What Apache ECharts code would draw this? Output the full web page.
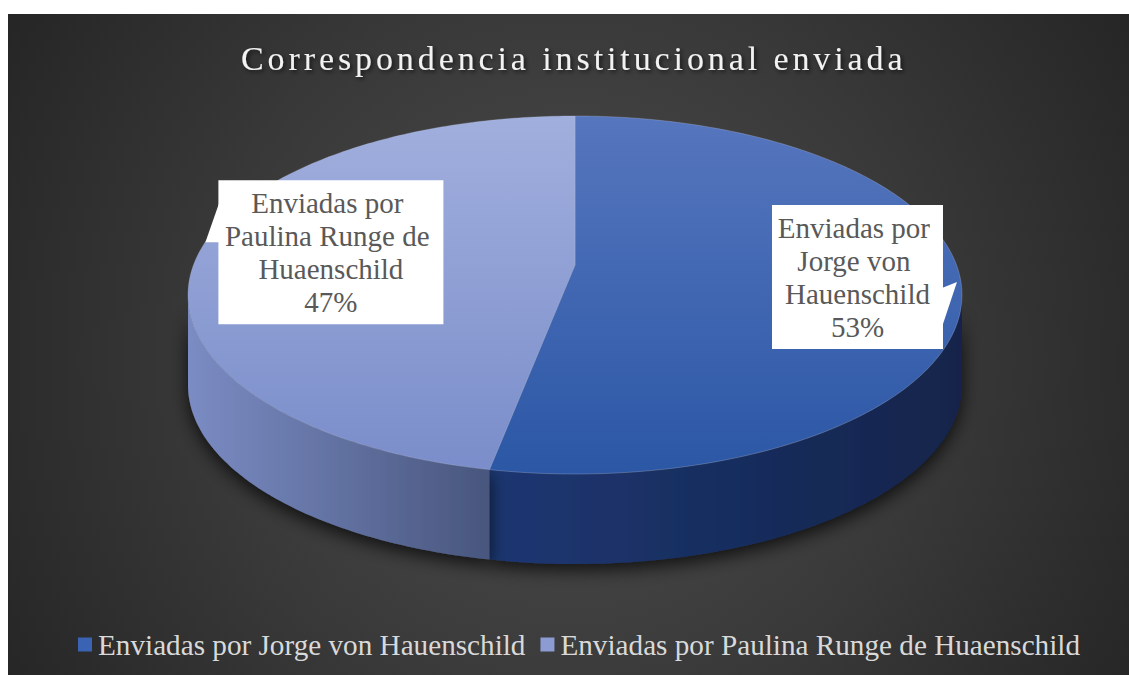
<!DOCTYPE html>
<html>
<head>
<meta charset="utf-8">
<script src="https://cdn.jsdelivr.net/npm/echarts@6/dist/echarts.min.js"></script>
<style>
  html, body { margin: 0; padding: 0; background: #ffffff; }
  #chart { position: absolute; left: 8px; top: 14px; width: 1121px; height: 661px; }
</style>
</head>
<body>
<div id="chart"></div>
<script>
// ---- data ----
const titleText = 'Correspondencia institucional enviada';
const categories = ['Enviadas por Jorge von Hauenschild', 'Enviadas por Paulina Runge de Huaenschild'];
const values = [53, 47];

// ---- layout / style ----
const W = 1121, H = 661;
// perspective pie: centre, radii, perspective factor, wall depth
const CX = 567, CY = 251, A = 381.5, B = 174, PK = 0.1676, DEPTH = 90;
const FONT = "'Liberation Serif', 'Times New Roman', serif";
const legendColors = ['#3a63b3', '#8c9cd3'];
const topColors = [['#5676be', '#2b57a5'], ['#a1afdd', '#7a8dca']];
const wallColors = [['#1d3772', '#13244b'], ['#7b8cc4', '#48567d']];
const labelBox = [{ w: 171, h: 144, dx: 2, dy: 0 }, { w: 225, h: 144, dx: 30, dy: -1 }];
const labelK = 0.73;

const total = values.reduce((a, b) => a + b, 0);

// project angle (deg, clockwise from the back) at relative radius s
function proj(deg, s, dy) {
  const r = deg * Math.PI / 180;
  const u = s * Math.sin(r), w = -s * Math.cos(r);
  const den = 1 - PK * w;
  return [CX + A * u / den, CY + B * w / den + (dy || 0)];
}
function arc(a, b, dy) {
  const pts = [];
  const n = Math.max(2, Math.ceil(Math.abs(b - a)));
  for (let k = 0; k <= n; k++) pts.push(proj(a + (b - a) * k / n, 1, dy));
  return pts;
}
// silhouette angles of the side wall
const wallFrom = Math.acos(-PK) * 180 / Math.PI;
const wallTo = 360 - wallFrom;

function makeSeries(i) {
  return {
    type: 'custom',
    name: categories[i],
    coordinateSystem: 'none',
    itemStyle: { color: legendColors[i] },
    animation: false,
    silent: true,
    data: [[values[i]]],
    renderItem: function (params, api) {
      const v = api.value(0);
      let before = 0;
      for (let j = 0; j < i; j++) before += values[j];
      const start = before / total * 360;
      const end = start + v / total * 360;
      const children = [];

      // side wall (visible front part only)
      const a = Math.max(start, wallFrom), b = Math.min(end, wallTo);
      if (b > a) {
        const top = arc(a, b, 0);
        const bottom = arc(b, a, DEPTH);
        const pts = top.concat(bottom);
        const xs = pts.map(p => p[0]);
        const x0 = Math.min.apply(null, xs), x1 = Math.max.apply(null, xs);
        children.push({
          type: 'polygon',
          z2: 1,
          shape: { points: pts },
          style: {
            fill: { type: 'linear', x: x0, y: 0, x2: x1, y2: 0, global: true,
              colorStops: [{ offset: 0, color: wallColors[i][0] }, { offset: 1, color: wallColors[i][1] }] },
            shadowBlur: 18, shadowColor: 'rgba(0,0,0,0.75)', shadowOffsetY: 6
          }
        });
      }

      // top face
      const facePts = [[CX, CY]].concat(arc(start, end, 0));
      const yBack = proj(0, 1)[1], yFront = proj(180, 1)[1];
      children.push({
        type: 'polygon',
        z2: 10,
        shape: { points: facePts },
        style: {
          fill: { type: 'linear', x: 0, y: yBack, x2: 0, y2: yFront, global: true,
            colorStops: [{ offset: 0, color: topColors[i][0] }, { offset: 1, color: topColors[i][1] }] },
          stroke: 'rgba(190,200,235,0.35)', lineWidth: 0.8
        }
      });

      // data label (callout box)
      const mid = (start + end) / 2;
      const lb = labelBox[i];
      const anchor = proj(mid, labelK);
      const lx = anchor[0] + lb.dx;
      const ly = anchor[1] + lb.dy;
      const bx = lx - lb.w / 2, by = ly - lb.h / 2;
      let wedge;
      if (i === 0) {
        wedge = [[bx + lb.w - 1, by + 83], [bx + lb.w + 14, by + 77], [bx + lb.w - 1, by + 122]];
      } else {
        wedge = [[bx + 1, by + 22], [bx - 13, by + 62], [bx + 1, by + 62]];
      }
      children.push({ type: 'polygon', z2: 20, shape: { points: wedge }, style: { fill: '#ffffff' } });
      children.push({
        type: 'rect', z2: 21,
        shape: { x: bx, y: by, width: lb.w, height: lb.h },
        style: { fill: '#ffffff' }
      });
      const pct = Math.round(v / total * 100) + '%';
      children.push({
        type: 'text', z2: 22,
        x: lx, y: ly,
        style: {
          text: categories[i] + '\n' + pct,
          fill: '#595959',
          fontSize: 29,
          fontFamily: FONT,
          align: 'center',
          verticalAlign: 'middle',
          lineHeight: 33,
          width: lb.w - 6,
          overflow: 'break'
        }
      });

      return { type: 'group', children: children };
    }
  };
}

const chart = echarts.init(document.getElementById('chart'), null, { renderer: 'svg', width: W, height: H });

chart.setOption({
  animation: false,
  graphic: [{
    type: 'rect', z: -10, silent: true,
    shape: { x: 0, y: 0, width: W, height: H },
    style: {
      fill: { type: 'radial', x: W * 0.5, y: H * 0.52, r: 680, global: true,
        colorStops: [{ offset: 0, color: '#4e4e4e' }, { offset: 0.55, color: '#383838' }, { offset: 1, color: '#242424' }] }
    }
  }],
  title: {
    text: titleText,
    left: 228,
    top: 22,
    textStyle: {
      color: '#f2f2f2',
      fontSize: 34,
      fontWeight: 'normal',
      fontFamily: FONT,
      textShadowColor: 'rgba(0,0,0,0.65)',
      textShadowBlur: 4,
      textShadowOffsetX: 2,
      textShadowOffsetY: 2
    }
  },
  legend: {
    data: categories,
    left: 65,
    top: 611,
    icon: 'rect',
    itemWidth: 14,
    itemHeight: 14,
    itemGap: 15,
    selectedMode: false,
    textStyle: { color: '#d9d9d9', fontSize: 29.2, fontFamily: FONT, padding: [0, 0, 0, 1] }
  },
  series: categories.map((c, i) => makeSeries(i))
});

function spaceTitle() {
  const texts = document.querySelectorAll('#chart text');
  texts.forEach(t => {
    if (t.textContent === titleText) t.style.letterSpacing = '3.9px';
  });
}
chart.on('finished', spaceTitle);
setTimeout(spaceTitle, 50);
setTimeout(spaceTitle, 300);
</script>
</body>
</html>
